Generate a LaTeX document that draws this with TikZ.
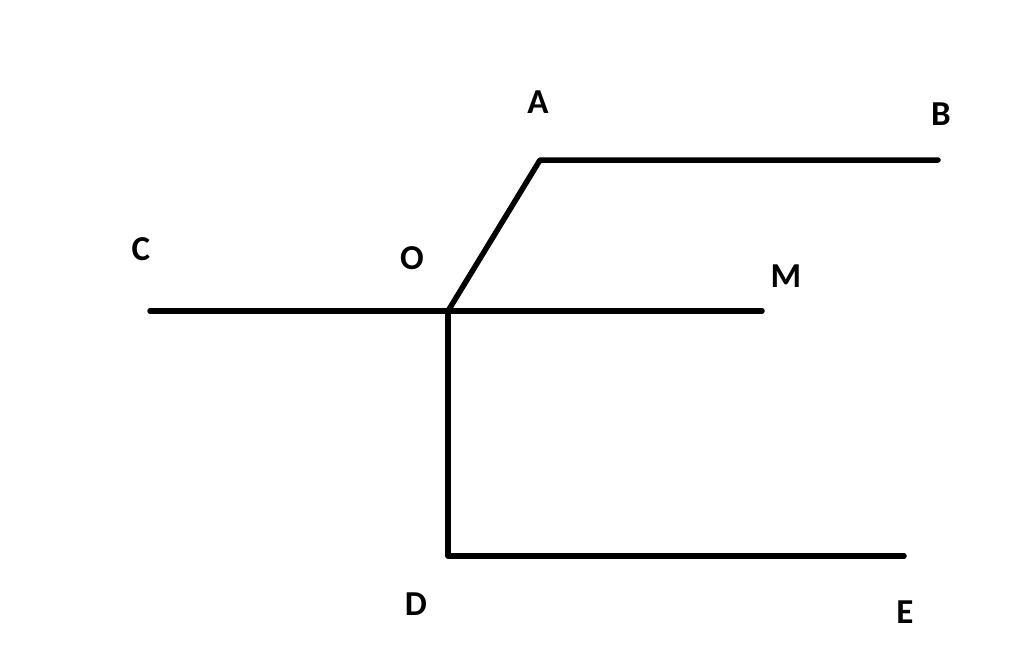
\documentclass[tikz,border=0pt]{standalone}
\usepackage{fontspec}
\setmainfont{Carlito}
\begin{document}
\begin{tikzpicture}[x=1pt,y=-1pt,
  seg/.style={line width=5.5pt,line cap=round,line join=round},
  lbl/.style={font=\fontsize{35}{40}\selectfont\bfseries,inner sep=0pt}]
\useasboundingbox[fill=white] (0,0) rectangle (1024,654);
\coordinate (A) at (540,160);
\coordinate (B) at (938,160);
\coordinate (O) at (448,311);
\coordinate (C) at (150,311);
\coordinate (M) at (762,311);
\coordinate (D) at (448,556);
\coordinate (E) at (904,556);
\draw[seg] (B) -- (A) -- (O);
\draw[seg] (C) -- (M);
\draw[seg] (O) -- (D) -- (E);
\node[lbl] (lA) at (538,102) {A};
\node[lbl] (lB) at (941,114) {B};
\node[lbl] (lC) at (141,249) {C};
\node[lbl] (lO) at (412,258) {O};
\node[lbl] (lM) at (786,276) {M};
\node[lbl] (lD) at (416,604) {D};
\node[lbl] (lE) at (905,612) {E};
\end{tikzpicture}
\end{document}
